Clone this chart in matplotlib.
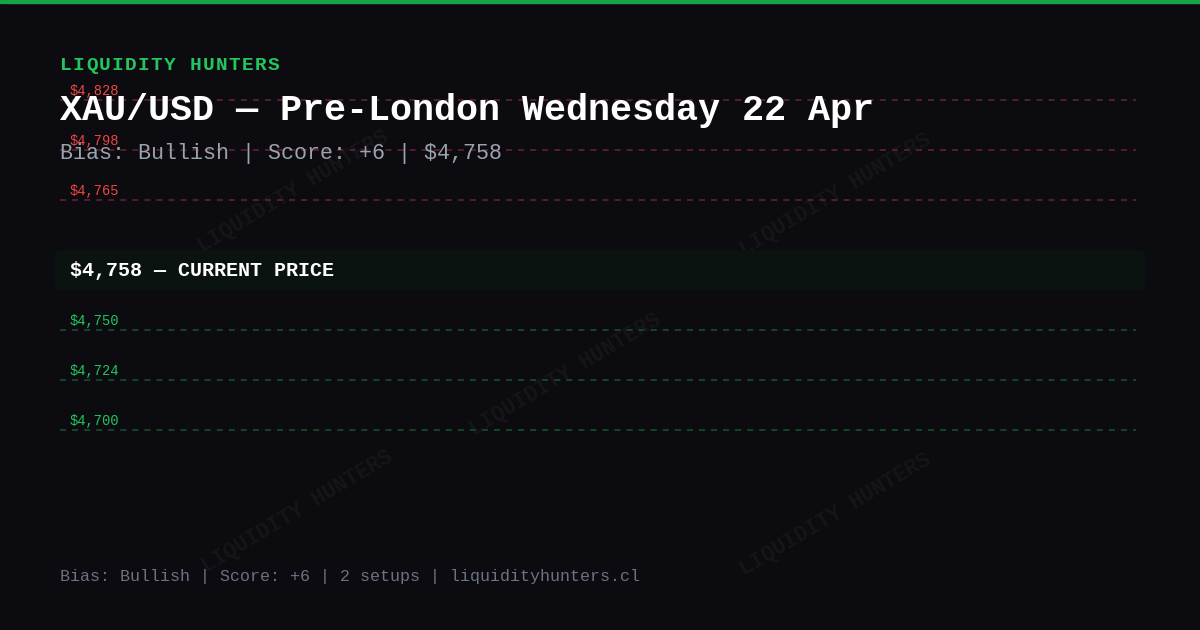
import matplotlib
matplotlib.use("Agg")
import matplotlib.pyplot as plt
from matplotlib.patches import FancyBboxPatch

# levels, top to bottom
resistances = [4828, 4798, 4765]
supports = [4750, 4724, 4700]
current_price = 4758
bias = "Bullish"
score = "+6"
setups = 2

brand = "LIQUIDITY HUNTERS"
title = "XAU/USD \u2014 Pre-London Wednesday 22 Apr"
subtitle = f"Bias: {bias} | Score: {score} | ${current_price:,}"
footer = f"Bias: {bias} | Score: {score} | {setups} setups | liquidityhunters.cl"

BG = "#0b0b10"
GREEN = "#22c55e"
RED = "#ef4444"
MONO = "Liberation Mono"

fig = plt.figure(figsize=(12, 6.3), dpi=100, facecolor=BG)
ax = fig.add_axes([0, 0, 1, 1])
ax.set_xlim(0, 1200)
ax.set_ylim(630, 0)
ax.axis("off")
ax.set_facecolor(BG)

# top accent bar
ax.axhspan(0, 2.6, color="#16a34a", zorder=5)

# watermarks
for cx, cy in [(293, 192), (835, 195), (565, 375), (297, 512), (835, 515)]:
    ax.text(cx, cy, brand, rotation=31, ha="center", va="center",
            fontsize=15.5, fontweight="bold", family=MONO,
            color="#ffffff", alpha=0.045, zorder=1)

# dash pattern ~6px on / 6px off
LW = 1.4
DASH = (3.1, 3.1)

# resistance lines
for i, lvl in enumerate(resistances):
    y = 100 + 50 * i
    ax.plot([60, 1136], [y, y], color="#52202a", lw=LW,
            dashes=DASH, zorder=2)
    ax.text(70, y - 9, f"${lvl:,}", color=RED, fontsize=9.9,
            family=MONO, va="center", ha="left", zorder=3)

# current price band
box = FancyBboxPatch((55, 250), 1090, 40, boxstyle="round,pad=0,rounding_size=4",
                     fc="#0b1311", ec="none", zorder=2)
ax.add_patch(box)
ax.text(70, 270, f"${current_price:,} \u2014 CURRENT PRICE", color="white",
        fontsize=14.4, fontweight="bold", family=MONO, va="center", zorder=3)

# support lines
for i, lvl in enumerate(supports):
    y = 330 + 50 * i
    ax.plot([60, 1136], [y, y], color="#15452a", lw=LW,
            dashes=DASH, zorder=2)
    ax.text(70, y - 9, f"${lvl:,}", color=GREEN, fontsize=9.9,
            family=MONO, va="center", ha="left", zorder=3)

# header: spaced brand letters
for k, ch in enumerate(brand):
    ax.text(60 + k * 12.95, 65, ch, color=GREEN, fontsize=14,
            fontweight="bold", family=MONO, va="center", ha="left", zorder=4)

ax.text(60, 110, title, color="white", fontsize=26.5, fontweight="bold",
        family=MONO, va="center", ha="left", zorder=4)
ax.text(60, 154, subtitle, color="#9ca3af", fontsize=15.6,
        family=MONO, va="center", ha="left", zorder=4)

ax.text(60, 576, footer, color="#6b7280", fontsize=12,
        family=MONO, va="center", ha="left", zorder=4)

fig.savefig("out.png", dpi=100, facecolor=BG)
